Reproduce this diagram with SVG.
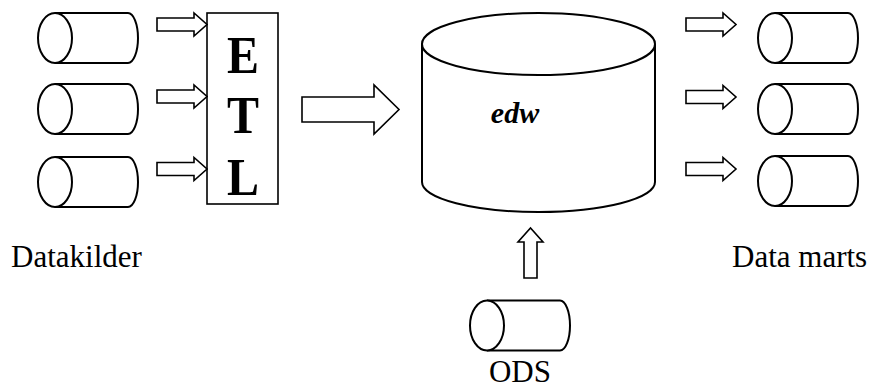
<svg xmlns="http://www.w3.org/2000/svg" width="869" height="390" viewBox="0 0 869 390">
  <style>
    .cyl { fill: #fff; stroke: #000; stroke-width: 2; }
    .arrow { fill: #fff; stroke: #000; stroke-width: 1.6; stroke-linejoin: miter; }
    .box { fill: #fff; stroke: #000; stroke-width: 1.6; }
    .lbl { font-family: "Liberation Serif", "Times New Roman", serif; font-size: 31px; fill: #000; }
    .etl { font-family: "Liberation Serif", "Times New Roman", serif; font-size: 48px; font-weight: bold; fill: #000; text-anchor: middle; }
    .edw { font-family: "Liberation Serif", "Times New Roman", serif; font-size: 30px; font-weight: bold; font-style: italic; fill: #000; text-anchor: middle; }
  </style>
  <defs>
    <!-- small horizontal cylinder, left end at x=0, centred on y=0 -->
    <g id="smallcyl">
      <path class="cyl" d="M17,-25 H90 A10,25 0 0 1 90,25 H17"/>
      <ellipse class="cyl" cx="17" cy="0" rx="17" ry="25"/>
    </g>
    <!-- small block arrow pointing right, tail at x=0 -->
    <path id="smallarrow" class="arrow" d="M0,-6.5 H37 V-11.5 L50,0 L37,11.5 V6.5 H0 Z"/>
  </defs>

  <!-- source systems -->
  <g id="src1"><use href="#smallcyl" transform="translate(38,38)"/></g>
  <g id="src2"><use href="#smallcyl" transform="translate(38,109)"/></g>
  <g id="src3"><use href="#smallcyl" transform="translate(38,182)"/></g>

  <!-- ETL box -->
  <g id="etl">
    <rect class="box" x="207" y="13" width="71" height="191"/>
    <text class="etl" transform="translate(243,73) scale(1,1.12)">E</text>
    <text class="etl" transform="translate(243,133) scale(1,1.12)">T</text>
    <text class="etl" transform="translate(243,195) scale(1,1.12)">L</text>
  </g>

  <!-- enterprise data warehouse -->
  <g id="edw">
    <path class="cyl" d="M422,44 V182 A116.5,30 0 0 0 655,182 V44"/>
    <ellipse class="cyl" cx="538.5" cy="44" rx="116.5" ry="31"/>
    <text class="edw" x="515" y="123">edw</text>
  </g>

  <!-- data marts -->
  <g id="mart1"><use href="#smallcyl" transform="translate(758,38)"/></g>
  <g id="mart2"><use href="#smallcyl" transform="translate(758,109)"/></g>
  <g id="mart3"><use href="#smallcyl" transform="translate(758,181)"/></g>

  <!-- operational data store -->
  <g id="ods">
    <use href="#smallcyl" transform="translate(470,325.5)"/>
    <text class="lbl" x="520" y="382" text-anchor="middle">ODS</text>
  </g>

  <!-- connectors -->
  <g id="connectors">
    <use href="#smallarrow" transform="translate(157,24.5)"/>
    <use href="#smallarrow" transform="translate(157,96.5)"/>
    <use href="#smallarrow" transform="translate(157,169)"/>
    <path class="arrow" d="M302,97 H374 V85 L399,109.5 L374,134 V122 H302 Z"/>
    <use href="#smallarrow" transform="translate(686,24.5)"/>
    <use href="#smallarrow" transform="translate(686,97)"/>
    <use href="#smallarrow" transform="translate(686,169)"/>
    <path class="arrow" d="M524,278 V242 H518 L530.5,228 L543,242 H537 V278 Z"/>
  </g>

  <!-- captions -->
  <text class="lbl" x="11" y="267">Datakilder</text>
  <text class="lbl" x="732" y="267">Data marts</text>
</svg>
